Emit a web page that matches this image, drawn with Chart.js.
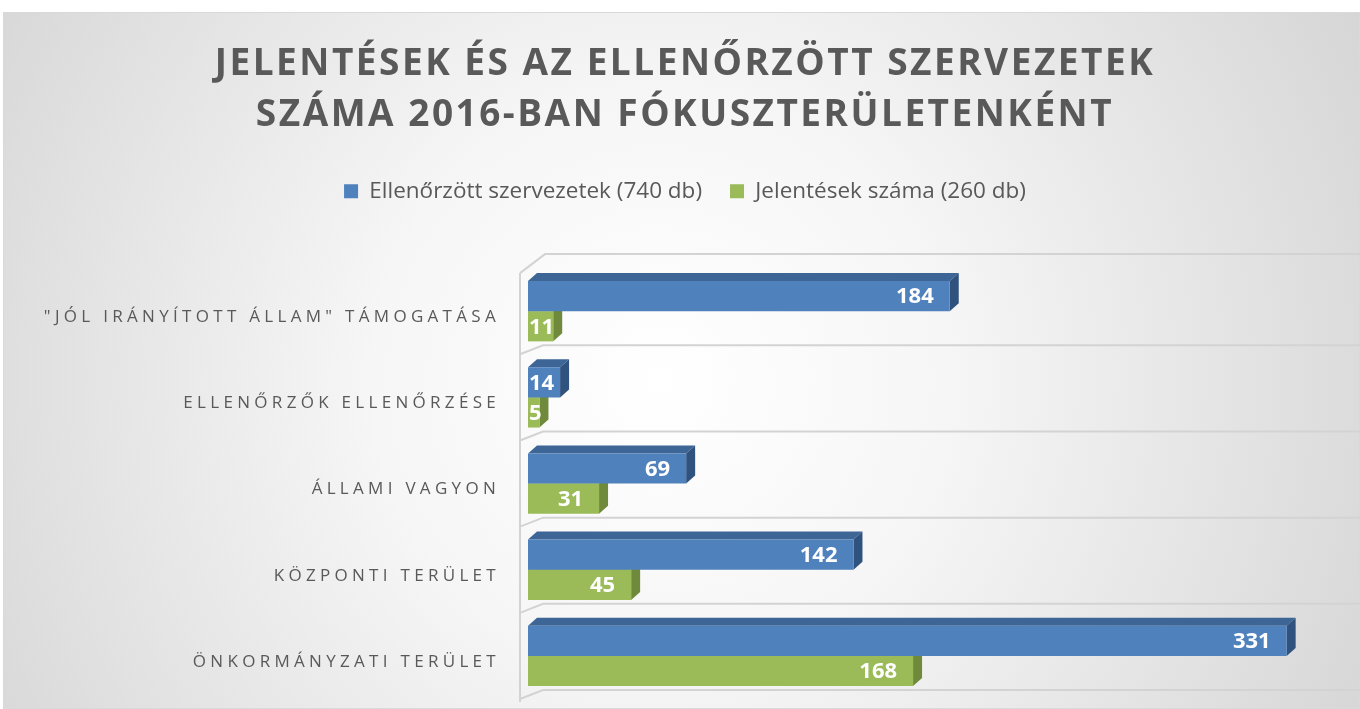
<!DOCTYPE html>
<html>
<head>
<meta charset="utf-8">
<script src="https://cdn.jsdelivr.net/npm/chart.js@4/dist/chart.umd.min.js"></script>
<style>
  html, body { margin: 0; padding: 0; background: #fff; }
  #wrap { width: 1360px; height: 709px; }
</style>
</head>
<body>
<div id="wrap"><canvas id="fokusz-chart" width="1360" height="709"></canvas></div>
<script>
// data
var categories = ['"JÓL IRÁNYÍTOTT ÁLLAM" TÁMOGATÁSA', 'ELLENŐRZŐK ELLENŐRZÉSE', 'ÁLLAMI VAGYON', 'KÖZPONTI TERÜLET', 'ÖNKORMÁNYZATI TERÜLET'];
var ellenorzott = [184, 14, 69, 142, 331];
var jelentesek = [11, 5, 31, 45, 168];
var seriesNames = ['Ellenőrzött szervezetek (740 db)', 'Jelentések száma (260 db)'];
var titleLines = ['JELENTÉSEK ÉS AZ ELLENŐRZÖTT SZERVEZETEK', 'SZÁMA 2016-BAN FÓKUSZTERÜLETENKÉNT'];

var blue = '#4F81BD', blueTop = '#3D6696', blueSide = '#30527F';
var green = '#9BBB59', greenTop = '#84A147', greenSide = '#6F8A3A';
var depthX = 9, depthY = 8;

// wrap a draw method so its text gets letter spacing (canvas letterSpacing)
function spaced(obj, fn, ls) {
    if (!obj || obj['_sp_' + fn]) return;
    var orig = obj[fn];
    obj[fn] = function() {
        var c = this.ctx;
        c.save();
        c.letterSpacing = ls;
        orig.apply(this, arguments);
        c.restore();
    };
    obj['_sp_' + fn] = true;
}

var backdrop = {
    id: 'backdrop',
    beforeDraw: function(chart) {
        var ctx = chart.ctx;
        spaced(chart.titleBlock, 'draw', '2.5px');
        spaced(chart.scales.y, 'drawLabels', '4.3px');
        ctx.save();
        ctx.fillStyle = '#fff';
        ctx.fillRect(0, 0, chart.width, chart.height);
        var g = ctx.createRadialGradient(660, 380, 0, 660, 380, 820);
        g.addColorStop(0, '#FFFFFF');
        g.addColorStop(0.35, '#F6F6F6');
        g.addColorStop(1, '#D4D4D4');
        ctx.fillStyle = g;
        ctx.fillRect(3, 12, chart.width - 3, chart.height - 12);
        ctx.strokeStyle = '#D9D9D9';
        ctx.lineWidth = 1;
        ctx.strokeRect(3.5, 12.5, chart.width - 4, chart.height - 13);
        ctx.restore();
    },
    beforeDatasetsDraw: function(chart) {
        var ctx = chart.ctx, area = chart.chartArea, y = chart.scales.y;
        var wallX = area.left - 8;
        ctx.save();
        // wall and floor lines of the 3d plot
        ctx.strokeStyle = '#D3D3D3';
        ctx.lineWidth = 2;
        ctx.beginPath();
        ctx.moveTo(wallX, area.top + 5);
        ctx.lineTo(wallX, area.bottom + 3);
        ctx.moveTo(wallX, area.top + 5);
        ctx.lineTo(wallX + 25, area.top - 14);
        ctx.lineTo(chart.width, area.top - 14);
        for (var i = 0; i < categories.length; i++) {
            var b = y.getPixelForValue(i) + (y.getPixelForValue(1) - y.getPixelForValue(0)) / 2;
            ctx.moveTo(wallX, b);
            ctx.lineTo(wallX + 23, b - 9);
            ctx.lineTo(chart.width, b - 9);
        }
        ctx.stroke();
        // top and side faces of the bars
        [1, 0].forEach(function(di) {
            var topCol = di === 0 ? blueTop : greenTop;
            var sideCol = di === 0 ? blueSide : greenSide;
            chart.getDatasetMeta(di).data.forEach(function(bar) {
                var p = bar.getProps(['x', 'y', 'base', 'height'], true);
                var top = p.y - p.height / 2, bot = p.y + p.height / 2;
                ctx.fillStyle = topCol;
                ctx.beginPath();
                ctx.moveTo(p.base, top);
                ctx.lineTo(p.base + depthX, top - depthY);
                ctx.lineTo(p.x + depthX, top - depthY);
                ctx.lineTo(p.x, top);
                ctx.closePath();
                ctx.fill();
                ctx.fillStyle = sideCol;
                ctx.beginPath();
                ctx.moveTo(p.x, top);
                ctx.lineTo(p.x + depthX, top - depthY);
                ctx.lineTo(p.x + depthX, bot - depthY);
                ctx.lineTo(p.x, bot);
                ctx.closePath();
                ctx.fill();
            });
        });
        ctx.restore();
    },
    afterDatasetsDraw: function(chart) {
        var ctx = chart.ctx;
        ctx.save();
        ctx.font = 'bold 22px "Open Sans"';
        ctx.fillStyle = '#fff';
        ctx.textAlign = 'right';
        ctx.textBaseline = 'middle';
        [0, 1].forEach(function(di) {
            var vals = chart.data.datasets[di].data;
            chart.getDatasetMeta(di).data.forEach(function(bar, i) {
                var p = bar.getProps(['x', 'y', 'base'], true);
                var txt = String(vals[i]);
                var w = ctx.measureText(txt).width;
                var right = Math.max(p.x - 16, p.base + w + 1);
                ctx.fillText(txt, right, p.y + 1);
            });
        });
        ctx.restore();
    }
};

var ctx = document.getElementById('fokusz-chart').getContext('2d');
var data = {
    labels: categories,
    datasets: [
        {
            label: seriesNames[0],
            data: ellenorzott,
            backgroundColor: blue,
            borderWidth: 0,
            categoryPercentage: 0.7,
            barPercentage: 1.0
        },
        {
            label: seriesNames[1],
            data: jelentesek,
            backgroundColor: green,
            borderWidth: 0,
            categoryPercentage: 0.7,
            barPercentage: 1.0
        }
    ]
};
var options = {
    indexAxis: 'y',
    responsive: false,
    animation: false,
    devicePixelRatio: 1,
    layout: { padding: { top: 12, left: 10, right: 0, bottom: 10 } },
    plugins: {
        title: {
            display: true,
            text: titleLines,
            color: '#595959',
            font: { family: '"Open Sans"', size: 37, weight: 'bold', lineHeight: 1.38 },
            padding: { top: 27, bottom: 11 }
        },
        legend: {
            display: true,
            position: 'top',
            labels: {
                color: '#595959',
                font: { family: '"Open Sans"', size: 22.5 },
                boxWidth: 14,
                boxHeight: 14,
                padding: 28
            }
        },
        tooltip: { enabled: false }
    },
    scales: {
        x: {
            position: 'top',
            min: 0,
            max: 363,
            grid: { display: false },
            border: { display: false },
            ticks: { display: false },
            afterFit: function(scale) { scale.height = 55.5; }
        },
        y: {
            grid: { display: false },
            border: { display: false },
            ticks: {
                color: '#595959',
                font: { family: '"Open Sans"', size: 17 },
                padding: 20,
                labelOffset: 6
            },
            afterFit: function(scale) {
                scale.width = 518;
                scale.paddingTop = 0;
                scale.paddingBottom = 0;
            }
        }
    }
};
var fokuszChart = new Chart(ctx, {
    type: 'bar',
    data: data,
    options: options,
    plugins: [backdrop]
});
</script>
</body>
</html>
